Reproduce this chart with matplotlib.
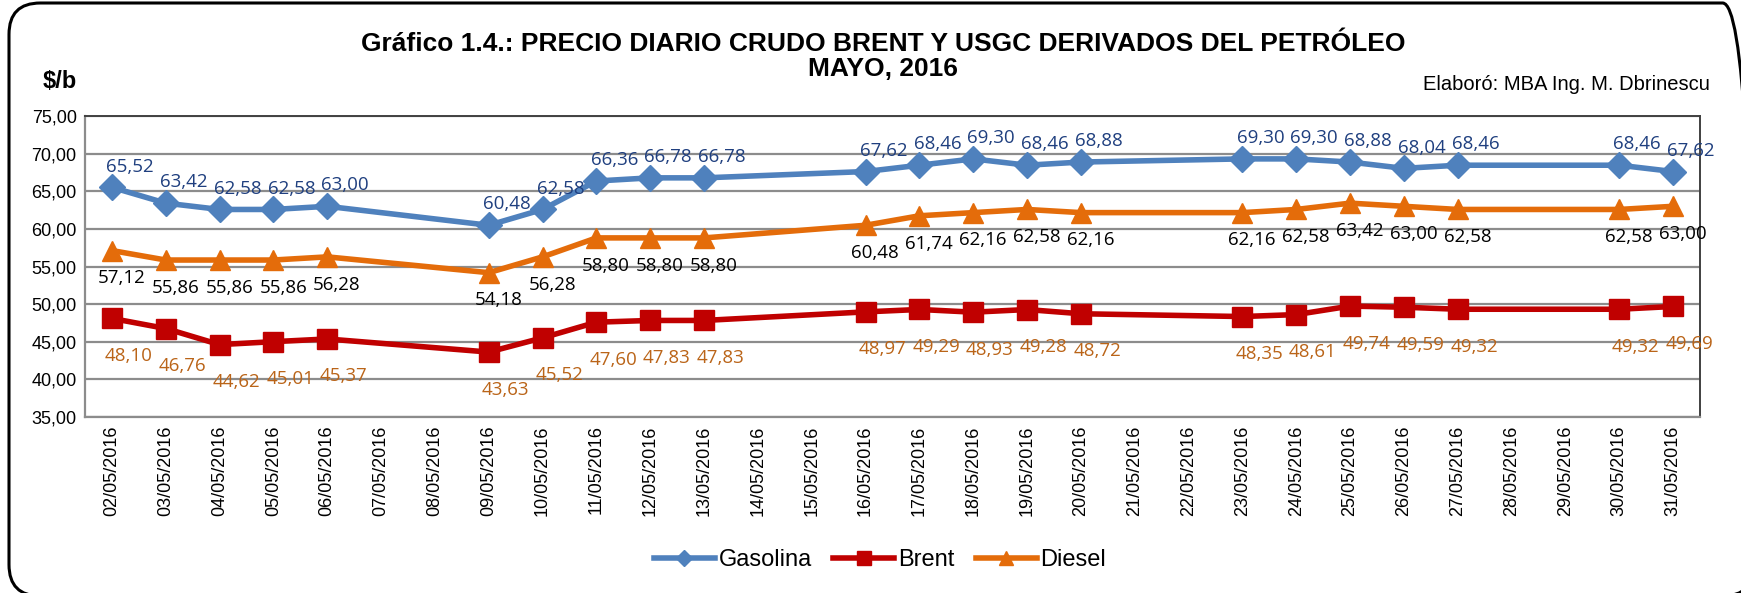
import matplotlib
matplotlib.use("Agg")
import matplotlib.pyplot as plt
from matplotlib.patches import FancyBboxPatch
from matplotlib.ticker import FuncFormatter
import numpy as np

# ==================== DATA ====================
days = list(range(2, 32))
date_labels = [f"{d:02d}/05/2016" for d in days]

trading_days = [2, 3, 4, 5, 6, 9, 10, 11, 12, 13, 16, 17, 18, 19, 20,
                23, 24, 25, 26, 27, 30, 31]

gasolina = [65.52, 63.42, 62.58, 62.58, 63.00, 60.48, 62.58, 66.36, 66.78, 66.78,
            67.62, 68.46, 69.30, 68.46, 68.88, 69.30, 69.30, 68.88, 68.04, 68.46,
            68.46, 67.62]
brent = [48.10, 46.76, 44.62, 45.01, 45.37, 43.63, 45.52, 47.60, 47.83, 47.83,
         48.97, 49.29, 48.93, 49.28, 48.72, 48.35, 48.61, 49.74, 49.59, 49.32,
         49.32, 49.69]
diesel = [57.12, 55.86, 55.86, 55.86, 56.28, 54.18, 56.28, 58.80, 58.80, 58.80,
          60.48, 61.74, 62.16, 62.58, 62.16, 62.16, 62.58, 63.42, 63.00, 62.58,
          62.58, 63.00]

W, H = 1741, 593
fig = plt.figure(figsize=(W / 100, H / 100), dpi=100)

# rounded outer frame (runs off the right and bottom edges like the original)
frame = FancyBboxPatch((9 / W, -3 / H), 1745 / W, 593 / H,
                       boxstyle="round,pad=0,rounding_size=0.018",
                       transform=fig.transFigure, fill=False,
                       edgecolor="black", linewidth=2.2, mutation_aspect=W / H)
fig.patches.append(frame)

ax = fig.add_axes([85 / W, 1 - 417 / H, (1700 - 85) / W, (417 - 116) / H])

x_idx = [days.index(d) for d in trading_days]

series = [
    ("Gasolina", gasolina, "#4F81BD", "D", 13, "#1F3F7F", (13, 15)),
    ("Brent", brent, "#C00000", "s", 15, "#BA6418", (12, -27)),
    ("Diesel", diesel, "#E46C0A", "^", 15, "#000000", (7, -20)),
]

for name, vals, color, marker, ms, lcolor, (dx, dy) in series:
    ax.plot(x_idx, vals, color=color, linewidth=4, marker=marker,
            markersize=ms, label=name, zorder=3)
    for xi, v in zip(x_idx, vals):
        ax.annotate(f"{v:.2f}".replace(".", ","), (xi, v), xytext=(dx, dy),
                    textcoords="offset points", ha="center", va="center",
                    fontsize=13.5, color=lcolor, family="Open Sans", zorder=4,
                    annotation_clip=False)

ax.set_xlim(-0.5, len(days) - 0.5)
ax.set_ylim(35, 75)
ax.set_yticks(np.arange(35, 76, 5))
ax.yaxis.set_major_formatter(FuncFormatter(lambda v, p: f"{v:.2f}".replace(".", ",")))
ax.set_xticks(range(len(days)))
ax.set_xticklabels(date_labels, rotation=90, fontsize=13, family="Liberation Sans")
for lbl in ax.get_yticklabels():
    lbl.set_family("Liberation Sans")
    lbl.set_fontsize(13)
ax.tick_params(axis="both", length=0, pad=6)
ax.grid(axis="y", color="#8C8C8C", linewidth=1.6, zorder=0)
ax.set_axisbelow(True)
for side in ["top", "right"]:
    ax.spines[side].set_color("#404040")
    ax.spines[side].set_linewidth(1.4)
for side in ["left", "bottom"]:
    ax.spines[side].set_color("#8C8C8C")
    ax.spines[side].set_linewidth(1.6)

fig.text(883 / W, 1 - 44 / H,
         "Gráfico 1.4.: PRECIO DIARIO CRUDO BRENT Y USGC DERIVADOS DEL PETRÓLEO",
         ha="center", va="center", fontsize=19, fontweight="bold", family="Liberation Sans")
fig.text(883 / W, 1 - 69 / H, "MAYO, 2016",
         ha="center", va="center", fontsize=19, fontweight="bold", family="Liberation Sans")
fig.text(60 / W, 1 - 82 / H, "$/b", ha="center", va="center",
         fontsize=17, fontweight="bold", family="Liberation Sans")
fig.text(1710 / W, 1 - 84 / H, "Elaboró: MBA Ing. M. Dbrinescu", ha="right",
         va="center", fontsize=14.5, family="Liberation Sans")

fig.legend(loc="center", bbox_to_anchor=(880 / W, 1 - 560 / H), ncol=3,
           frameon=False, prop={"family": "Liberation Sans", "size": 17},
           handlelength=2.6, handletextpad=0.15, columnspacing=0.9, markerscale=0.65)

fig.savefig("out.png", dpi=100)
